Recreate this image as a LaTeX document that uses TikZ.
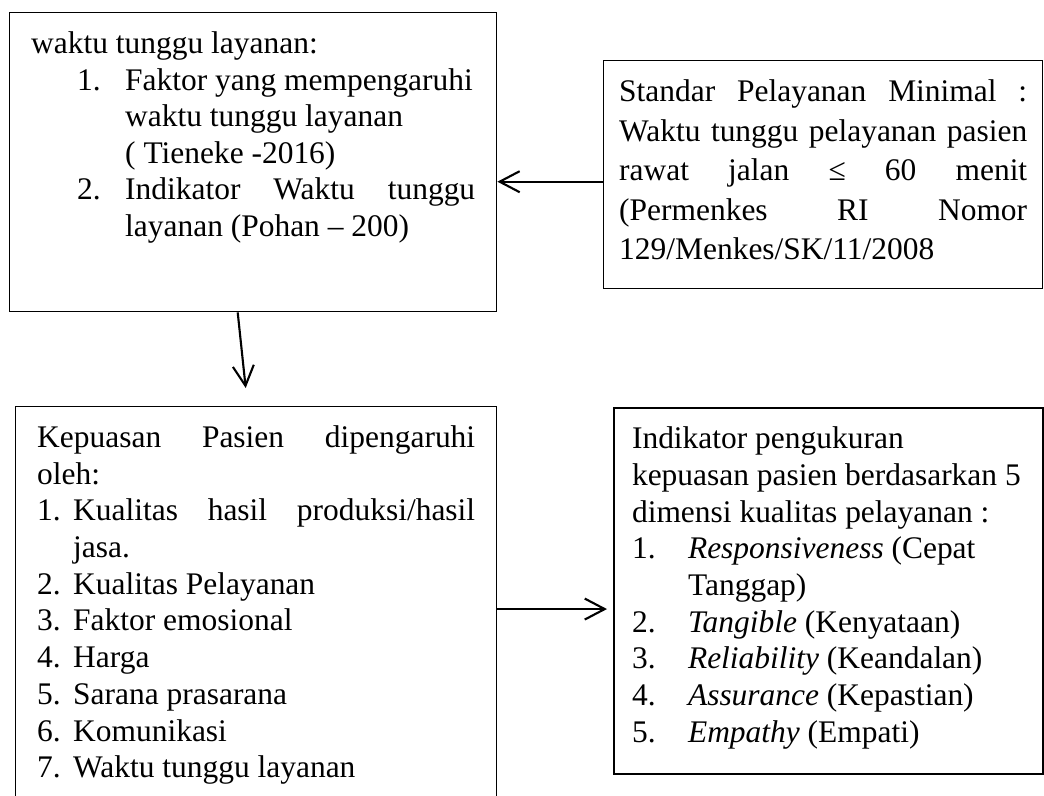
\documentclass[tikz,border=0pt]{standalone}
\usepackage{fontspec}
\setmainfont{Liberation Serif}
\usetikzlibrary{arrows.meta, positioning, calc}
\hyphenpenalty=10000
\exhyphenpenalty=10000
\hbadness=10000
\vbadness=10000

\tikzset{
    box/.style={draw, anchor=north west, inner ysep=0.19cm, line width=0.4pt},
    arrow/.style={-{Straight Barb[length=0.2cm, width=0.21cm]}, line width=0.6pt}
}
% numbered line: offset, hang, number, text
\newcommand{\numitem}[4]{\par\noindent\hangindent=#2\hangafter=1\hspace*{#1}\makebox[\dimexpr#2-#1\relax][l]{#3}\ignorespaces#4}

\begin{document}
\begin{tikzpicture}[x=1cm, y=-1cm]
    % Canvas
    \useasboundingbox (0,0) rectangle (10.44,7.96);
    \clip (0,0) rectangle (10.44,7.96);

    % Waktu tunggu layanan
    \node[box, inner xsep=0.215cm] (tunggu) at (0.09,0.12) {\begin{minipage}[t][2.61cm][t]{4.44cm}\fontsize{8.95}{10.4}\selectfont
        waktu tunggu layanan:
        \numitem{0.46cm}{0.94cm}{1.}{Faktor yang mempengaruhi\\ waktu tunggu layanan\\ ( Tieneke -2016)}
        \numitem{0.46cm}{0.94cm}{2.}{Indikator Waktu tunggu\linebreak layanan (Pohan -- 200)}
    \end{minipage}};

    % Standar Pelayanan Minimal
    \node[box, inner xsep=0.155cm] (standar) at (6.03,0.60) {\begin{minipage}[t][1.90cm][t]{4.08cm}\fontsize{8.95}{11.25}\selectfont
        Standar Pelayanan Minimal :\linebreak Waktu tunggu pelayanan pasien\linebreak rawat jalan ≤ 60 menit\linebreak (Permenkes RI Nomor\linebreak 129/Menkes/SK/11/2008
    \end{minipage}};

    % Kepuasan pasien
    \node[box, inner xsep=0.215cm] (kepuasan) at (0.15,4.06) {\begin{minipage}[t][3.76cm][t]{4.38cm}\fontsize{8.95}{10.44}\selectfont
        Kepuasan Pasien dipengaruhi\linebreak oleh:
        \numitem{0cm}{0.36cm}{1.}{Kualitas hasil produksi/hasil\linebreak jasa.}
        \numitem{0cm}{0.36cm}{2.}{Kualitas Pelayanan}
        \numitem{0cm}{0.36cm}{3.}{Faktor emosional}
        \numitem{0cm}{0.36cm}{4.}{Harga}
        \numitem{0cm}{0.36cm}{5.}{Sarana prasarana}
        \numitem{0cm}{0.36cm}{6.}{Komunikasi}
        \numitem{0cm}{0.36cm}{7.}{Waktu tunggu layanan}
    \end{minipage}};

    % Indikator pengukuran kepuasan
    \node[box, inner xsep=0.18cm, line width=0.6pt] (indikator) at (6.13,4.07) {\begin{minipage}[t][3.28cm][t]{3.93cm}\fontsize{8.95}{10.43}\selectfont
        Indikator pengukuran\\ kepuasan pasien berdasarkan 5\\ dimensi kualitas pelayanan :
        \numitem{0cm}{0.56cm}{1.}{\emph{Responsiveness} (Cepat\\ Tanggap)}
        \numitem{0cm}{0.56cm}{2.}{\emph{Tangible} (Kenyataan)}
        \numitem{0cm}{0.56cm}{3.}{\emph{Reliability} (Keandalan)}
        \numitem{0cm}{0.56cm}{4.}{\emph{Assurance} (Kepastian)}
        \numitem{0cm}{0.56cm}{5.}{\emph{Empathy} (Empati)}
    \end{minipage}};

    % Arrows
    \coordinate (standarout) at ([yshift=-0.07cm]standar.west);
    \draw[arrow] (standarout) -- (standarout -| tunggu.east);

    \coordinate (tunggubottom) at ([xshift=-0.155cm]tunggu.south);
    \coordinate (kepuasantop) at ([xshift=-0.105cm, yshift=0.18cm]kepuasan.north);
    \draw[arrow] (tunggubottom) -- (kepuasantop);

    \coordinate (indikatorin) at ([xshift=-0.06cm, yshift=-0.18cm]indikator.west);
    \draw[arrow] (indikatorin -| kepuasan.east) -- (indikatorin);
\end{tikzpicture}
\end{document}
